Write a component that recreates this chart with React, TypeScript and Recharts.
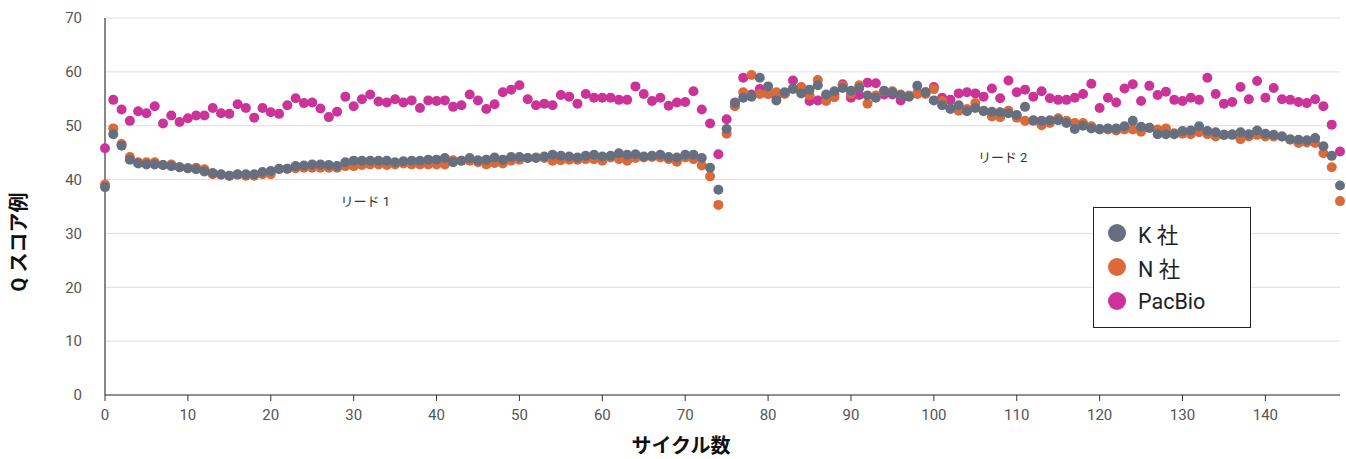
import React from 'react';
import { ScatterChart, Scatter, XAxis, YAxis, CartesianGrid, Legend, ReferenceDot, Label } from 'recharts';

// Q score per cycle, index = cycle number (0..149)
const kScores = [
  38.6, 48.4, 46.3, 43.7, 43.0, 42.8, 42.8, 42.7, 42.5, 42.3,
  42.1, 41.9, 41.5, 41.2, 41.0, 40.7, 41.0, 41.0, 41.0, 41.4,
  41.6, 42.0, 42.0, 42.5, 42.6, 42.8, 42.8, 42.7, 42.5, 43.2,
  43.5, 43.5, 43.5, 43.5, 43.5, 43.2, 43.4, 43.5, 43.5, 43.7,
  43.7, 44.0, 43.2, 43.5, 44.0, 43.6, 43.7, 44.1, 43.7, 44.2,
  44.2, 44.0, 44.0, 44.3, 44.6, 44.4, 44.3, 44.1, 44.4, 44.6,
  44.3, 44.4, 44.9, 44.6, 44.7, 44.3, 44.4, 44.6, 44.2, 44.1,
  44.6, 44.6, 44.0, 42.2, 38.1, 49.4, 54.2, 55.2, 55.4, 58.9,
  57.3, 54.7, 56.2, 56.9, 56.0, 56.7, 57.5, 55.8, 56.4, 57.0,
  56.5, 57.0, 55.6, 55.2, 56.5, 56.2, 55.6, 55.4, 57.4, 56.2,
  54.7, 53.8, 53.2, 53.8, 52.7, 53.3, 52.7, 52.6, 52.5, 52.3,
  52.0, 53.5, 51.0, 50.9, 51.0, 51.0, 50.5, 49.4, 50.0, 49.5,
  49.4, 49.5, 49.5, 49.9, 50.9, 49.8, 49.6, 48.4, 48.4, 48.4,
  49.0, 49.1, 49.9, 49.0, 48.8, 48.3, 48.3, 48.8, 48.4, 49.1,
  48.5, 48.3, 48.0, 47.5, 47.4, 47.3, 47.7, 46.2, 44.4, 38.9,
];

const nScores = [
  39.1, 49.5, 46.6, 44.2, 43.2, 43.2, 43.2, 42.7, 42.8, 42.3,
  42.1, 42.2, 41.9, 41.0, 40.9, 40.7, 40.9, 40.7, 40.7, 41.0,
  41.0, 41.9, 42.0, 42.1, 42.2, 42.2, 42.2, 42.2, 42.2, 42.5,
  42.5, 42.7, 42.8, 42.8, 42.7, 42.8, 43.0, 42.8, 42.8, 42.8,
  42.8, 42.8, 43.6, 43.5, 43.5, 43.2, 42.8, 43.1, 43.0, 43.5,
  43.7, 44.0, 44.1, 44.0, 43.5, 43.6, 43.7, 43.7, 43.8, 43.8,
  43.5, 44.1, 43.8, 43.5, 44.0, 44.1, 44.2, 44.1, 43.8, 43.3,
  44.1, 43.8, 42.6, 40.6, 35.3, 48.5, 53.6, 56.2, 59.4, 55.9,
  55.9, 56.2, 55.9, 56.8, 57.2, 55.7, 58.5, 54.6, 55.3, 57.4,
  55.9, 57.5, 54.1, 55.6, 56.4, 56.4, 55.8, 55.6, 55.9, 55.9,
  56.8, 54.6, 53.1, 52.8, 53.1, 54.2, 52.8, 51.7, 51.6, 52.8,
  51.5, 50.9, 50.9, 50.1, 50.5, 51.4, 50.9, 50.5, 50.5, 49.9,
  49.3, 49.3, 49.1, 49.3, 49.3, 48.9, 49.6, 49.3, 49.5, 48.6,
  48.5, 48.4, 48.8, 48.4, 48.0, 48.3, 48.4, 47.5, 48.0, 48.3,
  48.0, 48.0, 48.0, 47.4, 46.8, 46.9, 46.8, 44.9, 42.3, 36.0,
];

const pacbioScores = [
  45.8, 54.8, 53.0, 50.9, 52.7, 52.3, 53.6, 50.4, 51.9, 50.7,
  51.4, 51.9, 51.9, 53.3, 52.3, 52.2, 54.0, 53.3, 51.5, 53.3,
  52.5, 52.2, 53.8, 55.1, 54.2, 54.3, 53.2, 51.6, 52.6, 55.4,
  53.6, 54.9, 55.8, 54.5, 54.3, 54.9, 54.3, 54.7, 53.3, 54.7,
  54.6, 54.7, 53.5, 53.8, 55.8, 54.7, 53.1, 54.0, 56.2, 56.7,
  57.5, 54.9, 53.8, 54.1, 53.8, 55.7, 55.4, 54.1, 55.9, 55.2,
  55.2, 55.2, 54.8, 54.8, 57.3, 55.9, 54.6, 55.2, 53.7, 54.3,
  54.4, 56.4, 53.0, 50.4, 44.7, 51.2, 54.3, 58.9, 55.8, 56.8,
  55.9, 55.5, 56.0, 58.4, 56.4, 54.6, 54.7, 55.0, 55.8, 57.7,
  55.2, 55.7, 58.0, 57.9, 55.8, 55.8, 54.7, 55.5, 56.0, 56.2,
  57.2, 55.2, 54.8, 56.0, 56.2, 56.0, 55.4, 56.9, 55.1, 58.4,
  56.2, 56.7, 55.4, 56.4, 55.1, 54.8, 54.8, 55.2, 55.9, 57.8,
  53.3, 55.2, 54.3, 56.9, 57.7, 54.6, 57.4, 55.7, 56.3, 54.8,
  54.6, 55.2, 54.8, 58.9, 55.9, 54.1, 54.4, 57.2, 54.9, 58.3,
  55.2, 57.0, 54.9, 54.8, 54.4, 54.2, 54.9, 53.6, 50.2, 45.2,
];

const xTicks = [0, 10, 20, 30, 40, 50, 60, 70, 80, 90, 100, 110, 120, 130, 140];
const yTicks = [0, 10, 20, 30, 40, 50, 60, 70];

const annotations = [
  { label: 'リード 1', cycle: 31.4, q: 36.0 },
  { label: 'リード 2', cycle: 108.3, q: 44.2 },
];

const series = [
  { name: 'K 社', color: '#666f80', scores: kScores },
  { name: 'N 社', color: '#da6a3a', scores: nScores },
  { name: 'PacBio', color: '#cc3399', scores: pacbioScores },
];

const toPoints = (scores: number[]) => scores.map((q, cycle) => ({ cycle, q }));

const FONT = "Roboto, 'Noto Sans CJK JP', sans-serif";

const Dot = (props: any) => <circle cx={props.cx} cy={props.cy} r={5} fill={props.fill} />;

const LegendBox = () => (
  <div
    style={{
      boxSizing: 'border-box',
      width: 158,
      height: 121,
      border: '1.5px solid #222',
      background: '#fff',
      padding: '8px 0 0 14px',
      fontFamily: FONT,
    }}
  >
    {series.map((s) => (
      <div key={s.name} style={{ display: 'flex', alignItems: 'center', height: 34 }}>
        <span style={{ width: 18, height: 18, borderRadius: 9, background: s.color, display: 'inline-block' }} />
        <span style={{ marginLeft: 12, fontSize: 21.5, color: '#222' }}>{s.name}</span>
      </div>
    ))}
  </div>
);

const App = () => {
  // draw order: PacBio at the bottom, K on top
  const drawOrder = [series[2], series[1], series[0]];

  return (
    <div style={{ position: 'absolute', left: 0, top: 0, background: '#fff' }}>
      <ScatterChart width={1346} height={459} margin={{ top: 18, right: 6, bottom: 34, left: 0 }}>
        <CartesianGrid vertical={false} stroke="#dedde8" />
        <XAxis
          type="number"
          dataKey="cycle"
          domain={[0, 149]}
          ticks={xTicks}
          height={30}
          tickSize={6}
          tickMargin={8}
          stroke="#333"
          tick={{ fill: '#555', fontSize: 15, fontFamily: FONT }}
          label={
            <Label
              content={() => (
                <text x={681} y={446} textAnchor="middle" dominantBaseline="central" fontSize={20} fontWeight={700} fill="#111" fontFamily={FONT}>
                  サイクル数
                </text>
              )}
            />
          }
        />
        <YAxis
          type="number"
          dataKey="q"
          domain={[0, 70]}
          ticks={yTicks}
          width={105}
          tickLine={false}
          tickSize={6}
          tickMargin={17}
          stroke="#111"
          tick={{ fill: '#555', fontSize: 15, fontFamily: FONT }}
          label={
            <Label
              content={() => (
                <text transform="translate(19,242) rotate(-90)" textAnchor="middle" dominantBaseline="central" fontSize={20} fontWeight={700} fill="#111" fontFamily={FONT}>
                  Q スコア例
                </text>
              )}
            />
          }
        />
        {drawOrder.map((s) => (
          <Scatter key={s.name} name={s.name} data={toPoints(s.scores)} fill={s.color} shape={Dot} isAnimationActive={false} />
        ))}
        {annotations.map((a) => (
          <ReferenceDot key={a.label} x={a.cycle} y={a.q} r={0} fill="none" stroke="none" ifOverflow="visible">
            <Label value={a.label} position="center" fontSize={13} fill="#333" fontFamily={FONT} />
          </ReferenceDot>
        ))}
        <Legend
          layout="vertical"
          align="center"
          verticalAlign="middle"
          content={<LegendBox />}
          wrapperStyle={{ left: 1093, top: 207, width: 158, height: 121 }}
        />
      </ScatterChart>
    </div>
  );
};

export default App;
